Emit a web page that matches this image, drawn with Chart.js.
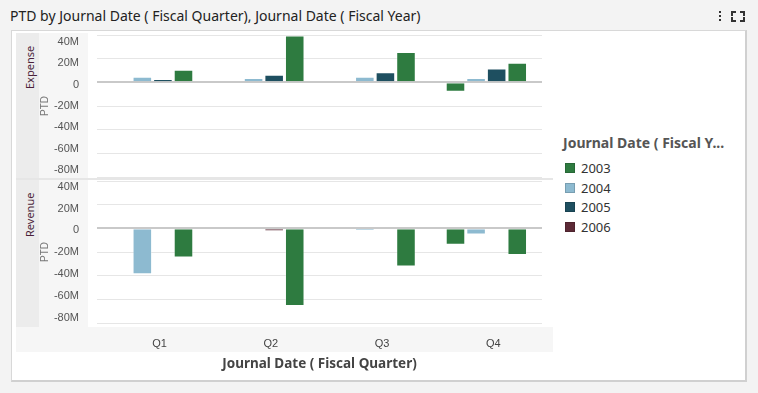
<!DOCTYPE html>
<html>
<head>
<meta charset="utf-8">
<script src="https://cdn.jsdelivr.net/npm/chart.js@4.4.1/dist/chart.umd.min.js"></script>
<style>
  html, body { margin:0; padding:0; }
  body { width:758px; height:393px; background:#f3f3f3; position:relative; overflow:hidden; font-family:"Noto Sans", sans-serif; }
  .abs { position:absolute; }
  #title { left:10px; top:6px; font-size:14px; color:#222; white-space:nowrap; }
  #panel { left:11px; top:30px; width:733px; height:349px; background:#fff; border:1px solid #d8d8d8; border-right:2px solid #d0d0d0; border-bottom:2px solid #d0d0d0; }
  #strip1 { left:16px; top:33px; width:23px; height:294px; background:#ececec; }
  #strip2 { left:39px; top:33px; width:49px; height:294px; background:#f6f6f6; }
  #xband { left:16px; top:327px; width:537px; height:25px; background:#f6f6f6; }
  #sep { left:16px; top:178px; width:537px; height:2px; background:#e6e6e6; }
  .facet { font-size:11px; color:#4b1f3a; transform-origin:left top; transform:rotate(-90deg); white-space:nowrap; }
  #legend { left:563px; top:133px; }
  #legendTitle { font-weight:bold; font-size:14px; color:#555; white-space:nowrap; margin-bottom:6px; }
  .item { height:19.8px; display:flex; align-items:center; font-size:13px; color:#333; }
  .sw { width:10px; height:10px; margin-left:2px; margin-right:6px; box-sizing:border-box; }
  #icons { left:716px; top:8px; font-size:14px; color:#333; }
  .corner { position:absolute; width:3px; height:3px; border-color:#333; border-style:solid; border-width:0; }
</style>
</head>
<body>
<div id="title" class="abs">PTD by Journal Date ( Fiscal Quarter), Journal Date ( Fiscal Year)</div>
<div id="icons" class="abs">
  <div class="abs" style="left:3px;top:3px;width:2px;height:2px;background:#333"></div>
  <div class="abs" style="left:3px;top:7px;width:2px;height:2px;background:#333"></div>
  <div class="abs" style="left:3px;top:11px;width:2px;height:2px;background:#333"></div>
  <div class="corner" style="left:15px;top:3px;border-left-width:2px;border-top-width:2px"></div>
  <div class="corner" style="left:24px;top:3px;border-right-width:2px;border-top-width:2px"></div>
  <div class="corner" style="left:15px;top:9px;border-left-width:2px;border-bottom-width:2px"></div>
  <div class="corner" style="left:24px;top:9px;border-right-width:2px;border-bottom-width:2px"></div>
</div>
<div id="panel" class="abs"></div>
<div id="strip1" class="abs"></div>
<div id="strip2" class="abs"></div>
<div id="xband" class="abs"></div>
<div id="sep" class="abs"></div>
<div class="abs facet" style="left:22px;top:89px;">Expense</div>
<div class="abs facet" style="left:22px;top:237px;">Revenue</div>
<div id="legend" class="abs"><div id="legendTitle">Journal Date ( Fiscal Y...</div><div id="legendItems"></div></div>
<canvas id="top" class="abs" style="left:39px;top:20px;" width="514" height="170"></canvas>
<canvas id="bottom" class="abs" style="left:39px;top:170px;" width="514" height="210"></canvas>
<script>
// ---- data (values in millions) ----
const quarters = ['Q1', 'Q2', 'Q3', 'Q4'];
const years = ['2003', '2004', '2005', '2006'];
const yearColors = ['#2e7b40', '#8dbad0', '#1e4f60', '#5c2a36'];
const yTicks = [40, 20, 0, -20, -40, -60, -80];

// Expense panel
const expense2003first = [null, null, null, -7.9];
const expense2004 = [4.8, 3.7, 4.8, 3.7];
const expense2005 = [2.8, 6.5, 8.5, 11.6];
const expense2006 = [null, null, null, null];
const expense2003 = [10.7, 39.5, 25.7, 16.6];

// Revenue panel
const revenue2003first = [null, null, null, -13.8];
const revenue2004 = [-38.7, -0.8, -2.0, -5.3];
const revenue2005 = [null, null, null, null];
const revenue2006 = [null, -2.5, null, null];
const revenue2003 = [-24.6, -65.6, -32.3, -22.6];

// ---- legend ----
const li = document.getElementById('legendItems');
years.forEach((y, i) => {
  const d = document.createElement('div');
  d.className = 'item';
  d.innerHTML = '<div class="sw" style="background:' + yearColors[i] + ';border:1px solid rgba(0,0,0,0.15)"></div>' + y;
  li.appendChild(d);
});

const FONT = "'Liberation Sans', sans-serif";

function makeDatasets(first, v2004, v2005, v2006, v2003) {
  const ds = (label, data, color, stack) => ({
    label, data, stack, yAxisID: 'y',
    backgroundColor: color,
    borderColor: 'rgba(255,255,255,0.35)',
    borderWidth: 1,
    barPercentage: 0.95,
    categoryPercentage: 0.74
  });
  return [
    ds(years[0], first, yearColors[0], 's1'),
    ds(years[1], v2004, yearColors[1], 's2'),
    ds(years[2], v2005, yearColors[2], 's3'),
    ds(years[3], v2006, yearColors[3], 's3'),
    ds(years[0], v2003, yearColors[0], 's4')
  ];
}

function makeOptions(showX, labelMin, labelMax, pad) {
  return {
    responsive: false,
    animation: false,
    layout: { padding: pad },
    plugins: { legend: { display: false }, tooltip: { enabled: false } },
    scales: {
      x: {
        type: 'category',
        stacked: true,
        display: showX,
        offset: true,
        grid: { display: false, drawTicks: false },
        border: { display: false },
        ticks: { color: '#444', font: { family: FONT, size: 11 }, padding: 14, labelOffset: 7 },
        title: { display: showX, text: 'Journal Date ( Fiscal Quarter)', color: '#444',
                 font: { family: "'Noto Sans', sans-serif", size: 13.5, weight: 'bold' }, padding: { top: 4, bottom: 1 } },
        afterFit: s => { if (showX) s.height = 50; }
      },
      y: {
        position: 'left',
        weight: 0,
        stacked: true,
        min: -80, max: 40,
        afterBuildTicks: a => { a.ticks = yTicks.map(v => ({ value: v })); },
        ticks: { display: false, padding: 0 },
        grid: {
          drawTicks: false,
          color: c => c.tick && c.tick.value === 0 ? '#c9c9c9' : '#e6e6e6',
          lineWidth: c => c.tick && c.tick.value === 0 ? 2 : 1
        },
        border: { display: false },
        afterFit: s => { s.width = 16; }
      },
      yl: {
        position: 'left',
        weight: 1,
        min: labelMin, max: labelMax,
        afterBuildTicks: a => { a.ticks = yTicks.map(v => ({ value: v })); },
        ticks: { color: '#555', font: { family: FONT, size: 11 }, padding: 2,
                 callback: v => v === 0 ? '0' : v + 'M' },
        grid: { display: false, drawTicks: false },
        border: { display: false },
        title: { display: true, text: 'PTD', color: '#777', font: { family: FONT, size: 10 }, padding: 0 },
        afterFit: s => { s.width = 42; }
      }
    }
  };
}

new Chart(document.getElementById('top'), {
  type: 'bar',
  data: { labels: quarters, datasets: makeDatasets(expense2003first, expense2004, expense2005, expense2006, expense2003) },
  options: makeOptions(false, -86.5, 46.3, { top: 15, right: 11, bottom: 13, left: 0 })
});

new Chart(document.getElementById('bottom'), {
  type: 'bar',
  data: { labels: quarters, datasets: makeDatasets(revenue2003first, revenue2004, revenue2005, revenue2006, revenue2003) },
  options: makeOptions(true, -84.9, 45.2, { top: 11, right: 11, bottom: 7, left: 0 })
});
</script>
</body>
</html>
